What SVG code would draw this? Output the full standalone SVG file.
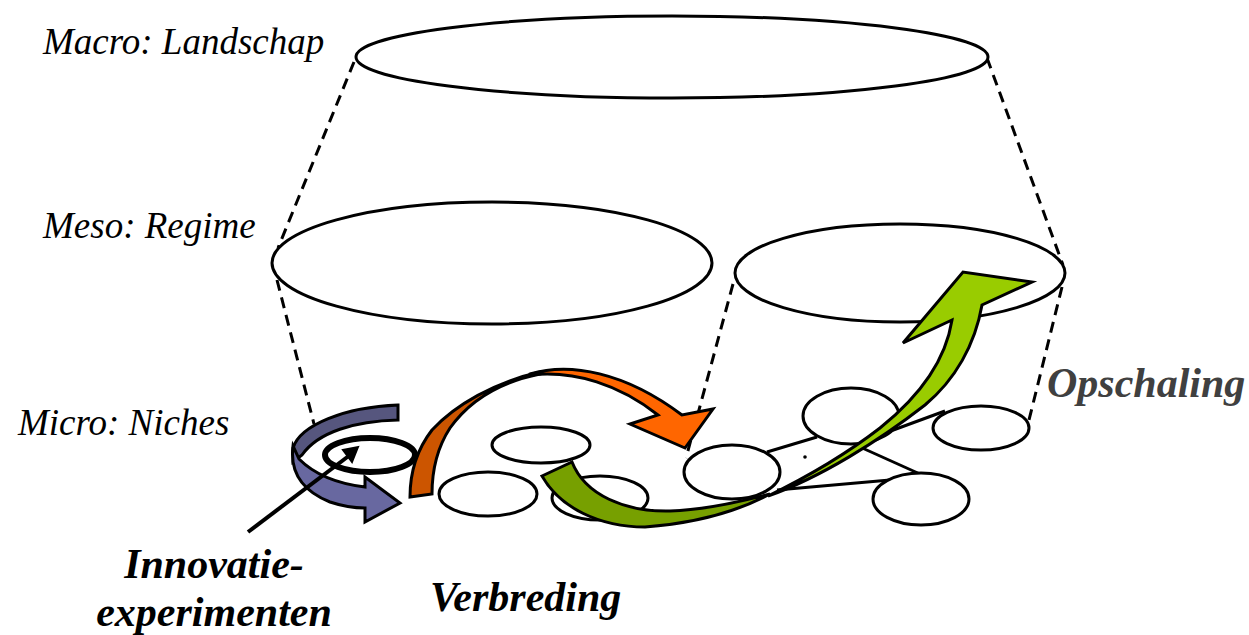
<svg xmlns="http://www.w3.org/2000/svg" width="1249" height="635" viewBox="0 0 1249 635">
<style>
.ell{fill:#fff;stroke:#000;stroke-width:3}
.dash{fill:none;stroke:#000;stroke-width:3;stroke-dasharray:11 7}
.ln{fill:none;stroke:#000;stroke-width:3}
.arw{stroke:#000;stroke-width:3;stroke-linejoin:miter}
.lvl{font-family:"Liberation Serif","Times New Roman",serif;font-style:italic;font-size:37px;fill:#000}
.big{font-family:"Liberation Serif","Times New Roman",serif;font-style:italic;font-weight:bold;font-size:42px;fill:#000}
</style>
<rect width="1249" height="635" fill="#fff"/>
<g id="connectors">
<line class="dash" x1="354" y1="62" x2="278" y2="248"/>
<line class="dash" x1="987" y1="58" x2="1063" y2="265"/>
<line class="dash" x1="277" y1="280" x2="314" y2="424"/>
<line class="dash" x1="1062" y1="287" x2="1029" y2="420"/>
<line class="dash" x1="733" y1="284" x2="686" y2="458"/>
<line class="ln" x1="767" y1="452" x2="817" y2="437"/>
<line class="ln" x1="858" y1="443" x2="945" y2="411"/>
<line class="ln" x1="860" y1="447" x2="920" y2="474"/>
<line class="ln" x1="777" y1="490" x2="890" y2="480"/>
</g>
<g id="macro"><ellipse class="ell" cx="672" cy="57" rx="316" ry="41"/></g>
<g id="meso-left"><ellipse class="ell" cx="492" cy="263" rx="220" ry="61"/></g>
<g id="meso-right"><ellipse class="ell" cx="900" cy="273" rx="165" ry="49"/></g>
<g id="niche-a"><ellipse class="ell" cx="541" cy="445" rx="49" ry="18"/></g>
<g id="niche-b"><ellipse class="ell" cx="488" cy="494" rx="49" ry="22"/></g>
<g id="niche-c"><ellipse class="ell" cx="600" cy="498" rx="48" ry="22"/></g>
<g id="niche-d"><ellipse class="ell" cx="732" cy="472" rx="48" ry="27"/></g>
<g id="niche-e"><ellipse class="ell" cx="851" cy="416" rx="48" ry="28"/></g>
<g id="niche-f"><ellipse class="ell" cx="981" cy="428" rx="48" ry="22"/></g>
<g id="niche-g"><ellipse class="ell" cx="921" cy="499" rx="48" ry="26"/></g>
<circle cx="805" cy="457" r="1.8" fill="#000"/>
<g id="innovatie-swirl">
<path class="arw" fill="#56567e" d="M398,405 L398,420 C355,421 318,432 302,455 L293,462 L293,448 C300,425 345,407 398,405 Z"/>
<ellipse cx="370" cy="455" rx="45" ry="17" fill="none" stroke="#000" stroke-width="6"/>
<path class="arw" fill="#6868a0" d="M293,446 C290,470 300,490 330,502 C345,507 355,508 365,508 L365,522 L400,503 L365,477 L365,487 C340,484 315,475 299,459 Z"/>
<line x1="248" y1="532" x2="350" y2="455" stroke="#000" stroke-width="4"/>
<polygon points="358,447 352,462 343,450" fill="#000" stroke="#000" stroke-width="2"/>
</g>
<g id="verbreding-arrow">
<path class="arw" fill="#cc5500" d="M540,372 C495,382 455,405 432,430 C415,452 410,475 410,497 L432,494 C432,470 437,448 450,428 C470,400 500,382 540,374 Z"/>
<path class="arw" fill="#ff6600" d="M530,374 C570,362 625,372 682,415 L713,409 L685,448 L630,424 L658,415 C620,385 575,370 530,375 Z"/>
</g>
<g id="opschaling-arrow">
<path class="arw" fill="#77a000" d="M542,476 L572,462 C585,495 625,512 670,511 C705,510 740,502 770,494 C740,510 700,523 645,527 C600,527 560,508 542,476 Z"/>
<path class="arw" fill="#99cc00" d="M768,496 C820,478 880,440 925,405 C955,380 975,345 982,305 L1032,282 L963,272 L903,343 L952,320 C945,365 915,400 880,428 C845,455 805,478 768,496 Z"/>
</g>
<g id="labels">
<text class="lvl" x="43" y="54">Macro: Landschap</text>
<text class="lvl" x="43" y="238">Meso: Regime</text>
<text class="lvl" x="18" y="435">Micro: Niches</text>
<text class="big" x="214" y="578" text-anchor="middle">Innovatie-</text>
<text class="big" x="214" y="626" text-anchor="middle">experimenten</text>
<text class="big" x="430" y="611">Verbreding</text>
<text class="big" x="1047" y="397" fill="#404040" style="fill:#404040">Opschaling</text>
</g>
</svg>
